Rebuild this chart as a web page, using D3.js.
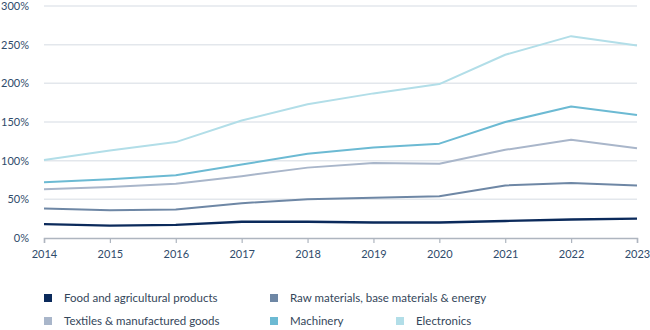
<!DOCTYPE html>
<html>
<head>
<meta charset="utf-8">
<script src="https://cdn.jsdelivr.net/npm/d3@7"></script>
<style>
  html, body { margin: 0; padding: 0; background: #fff; }
  svg { display: block; font-family: Lato, "Open Sans", sans-serif; }
</style>
</head>
<body>
<svg id="chart" width="650" height="330"></svg>
<script>
// Trade growth by product group, indexed percentages
const years = [2014, 2015, 2016, 2017, 2018, 2019, 2020, 2021, 2022, 2023];
const food        = [18, 16, 17, 21, 21, 20, 20, 22, 24, 25];
const rawMaterials = [38, 36, 37, 45, 50, 52, 54, 68, 71, 68];
const textiles    = [63, 66, 70, 80, 91, 97, 96, 114, 127, 116];
const machinery   = [72, 76, 81, 95, 109, 117, 122, 150, 170, 159];
const electronics = [101, 113, 124, 152, 173, 187, 199, 237, 261, 249];
const yTicks = [0, 50, 100, 150, 200, 250, 300];

const seriesNames = [
  "Food and agricultural products",
  "Raw materials, base materials & energy",
  "Textiles & manufactured goods",
  "Machinery",
  "Electronics"
];
const seriesValues = [food, rawMaterials, textiles, machinery, electronics];
const colors = ["#0b2a5b", "#6e87a5", "#a9b6ca", "#6cbad3", "#b2dee8"];

const svg = d3.select("#chart");
const margin = { left: 44, right: 13, top: 6, bottom: 92 };
const W = 650, H = 330;

const x = d3.scaleLinear()
  .domain(d3.extent(years))
  .range([margin.left, W - margin.right]);
const y = d3.scaleLinear()
  .domain([0, 300])
  .range([H - margin.bottom, margin.top]);

// horizontal gridlines
svg.append("g")
  .selectAll("line")
  .data(yTicks.filter(d => d > 0))
  .join("line")
  .attr("x1", x.range()[0]).attr("x2", x.range()[1])
  .attr("y1", d => y(d)).attr("y2", d => y(d))
  .attr("stroke", "#e3e7ec").attr("stroke-width", 1.5);

// y-axis labels
svg.append("g")
  .selectAll("text")
  .data(yTicks)
  .join("text")
  .attr("x", 29)
  .attr("y", d => y(d))
  .attr("dy", "0.35em")
  .attr("text-anchor", "end")
  .attr("font-size", 11)
  .attr("fill", "#2f4b6b")
  .text(d => d + "%");

// x axis
const xAxis = d3.axisBottom(x)
  .tickValues(years)
  .tickFormat(d3.format("d"))
  .tickSize(5)
  .tickPadding(7);
const gx = svg.append("g")
  .attr("transform", `translate(0,${y(0)})`)
  .call(xAxis);
gx.select(".domain").attr("stroke", "#aeb5bf").attr("stroke-width", 1.5);
gx.selectAll(".tick line").attr("stroke", "#aeb5bf").attr("stroke-width", 1.2);
gx.selectAll(".tick text")
  .attr("font-size", 11)
  .attr("font-family", "Lato, 'Open Sans', sans-serif")
  .attr("fill", "#2f4b6b");

// series lines
const line = d3.line()
  .x((d, i) => x(years[i]))
  .y(d => y(d));

svg.append("g")
  .selectAll("path")
  .data(seriesValues)
  .join("path")
  .attr("fill", "none")
  .attr("stroke", (d, i) => colors[i])
  .attr("stroke-width", (d, i) => i === 0 ? 2.4 : 2)
  .attr("stroke-linejoin", "round")
  .attr("d", line);

// legend
const legendPos = [
  { x: 44, y: 298 }, { x: 270, y: 298 },
  { x: 44, y: 321 }, { x: 270, y: 321 }, { x: 396, y: 321 }
];
const legend = svg.append("g")
  .selectAll("g")
  .data(seriesNames)
  .join("g")
  .attr("transform", (d, i) => `translate(${legendPos[i].x},${legendPos[i].y})`);
legend.append("rect")
  .attr("x", 0).attr("y", -4)
  .attr("width", 8).attr("height", 8)
  .attr("fill", (d, i) => colors[i]);
legend.append("text")
  .attr("x", 20)
  .attr("dy", "0.35em")
  .attr("font-size", 11.5)
  .attr("fill", "#34465a")
  .text(d => d);
</script>
</body>
</html>
